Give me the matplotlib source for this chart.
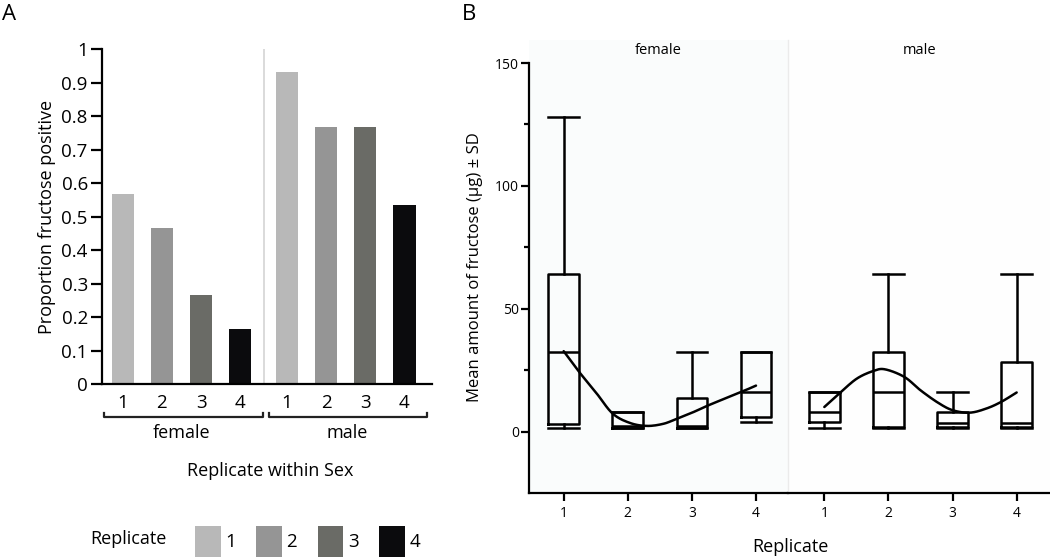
import matplotlib
matplotlib.use("Agg")
import numpy as np
import matplotlib.pyplot as plt
from matplotlib.patches import Rectangle

# ---------------- data ----------------
sexes = ["female", "male"]
replicates = ["1", "2", "3", "4"]
prop_female = [0.568, 0.468, 0.267, 0.166]
prop_male = [0.933, 0.768, 0.768, 0.534]
bar_colors = ["#b8b8b8", "#959595", "#6a6b66", "#0b0b0d"]
a_yticks = [0, 0.1, 0.2, 0.3, 0.4, 0.5, 0.6, 0.7, 0.8, 0.9, 1]
a_yticklabels = ["0", "0.1", "0.2", "0.3", "0.4", "0.5", "0.6", "0.7", "0.8", "0.9", "1"]

# box stats (whislo, q1, med, q3, whishi) per replicate
f_whislo = [1.5, 1.5, 1.5, 4.0]
f_q1 = [3.2, 1.5, 1.5, 6.0]
f_med = [32.4, 2.2, 2.5, 16.2]
f_q3 = [64.0, 8.2, 13.9, 32.4]
f_whishi = [128.0, 8.2, 32.4, 32.4]

m_whislo = [1.5, 1.5, 1.5, 1.5]
m_q1 = [4.1, 2.0, 2.0, 2.0]
m_med = [8.1, 16.1, 3.6, 3.6]
m_q3 = [16.1, 32.3, 8.1, 28.5]
m_whishi = [16.1, 64.0, 16.1, 64.0]

# smoother line
f_line_x = [1.0, 1.24, 1.515, 1.765, 2.035, 2.30, 2.56, 2.77, 3.03, 3.25, 3.55, 3.77, 4.0]
f_line_y = [32.8, 24.4, 15.6, 7.4, 3.6, 2.4, 3.3, 5.4, 8.1, 10.7, 13.9, 16.2, 18.8]
m_line_x = [1.0, 1.25, 1.51, 1.77, 1.95, 2.25, 2.50, 2.77, 3.0, 3.27, 3.53, 3.76, 4.0]
m_line_y = [10.1, 16.0, 21.7, 24.8, 25.4, 22.3, 16.9, 11.9, 8.8, 7.8, 9.5, 12.2, 16.0]

b_major = [0, 50, 100, 150]
b_minor = [25, 75, 125]

# ---------------- setup ----------------
W, H = 1050, 558
fig = plt.figure(figsize=(W / 100, H / 100), dpi=100)
fig.patch.set_facecolor("white")

MAIN = ["Open Sans", "DejaVu Sans"]
NARROW = ["Liberation Sans Narrow", "Open Sans", "DejaVu Sans"]
plt.rcParams["font.family"] = MAIN


def fx(px):
    return px / W


def fy(py):
    return 1 - py / H


def smooth_path(xs, ys, n=12):
    """Catmull-Rom rendering through the read points (drawing only)."""
    p = np.column_stack([xs, ys]).astype(float)
    p = np.vstack([2 * p[0] - p[1], p, 2 * p[-1] - p[-2]])
    out = []
    t = np.linspace(0, 1, n, endpoint=False)[:, None]
    for i in range(1, len(p) - 2):
        p0, p1, p2, p3 = p[i - 1], p[i], p[i + 1], p[i + 2]
        seg = 0.5 * ((2 * p1) + (-p0 + p2) * t + (2 * p0 - 5 * p1 + 4 * p2 - p3) * t ** 2
                     + (-p0 + 3 * p1 - 3 * p2 + p3) * t ** 3)
        out.append(seg)
    out.append(p[-2][None, :])
    out = np.vstack(out)
    return out[:, 0], out[:, 1]


# ---------------- panel A ----------------
axA = fig.add_axes([fx(101.7), fy(384.3), (431.7 - 101.7) / W, (384.3 - 49.3) / H])
male_off = 4.2
pos_f = [i for i in range(len(replicates))]
pos_m = [i + male_off for i in range(len(replicates))]
bw = 0.575
axA.bar(pos_f, prop_female, width=bw, color=bar_colors, edgecolor="none", zorder=2)
axA.bar(pos_m, prop_male, width=bw, color=bar_colors, edgecolor="none", zorder=2)
axA.set_xlim(-0.54, 7.9)
axA.set_ylim(0, 1)
axA.axvline((pos_f[-1] + pos_m[0]) / 2, color="#d4d4d4", lw=1.2, zorder=1)
for s in ["top", "right"]:
    axA.spines[s].set_visible(False)
axA.spines["left"].set_linewidth(1.6)
axA.spines["bottom"].set_linewidth(1.6)
axA.set_yticks(a_yticks)
axA.set_yticklabels(a_yticklabels, fontsize=13.5)
axA.tick_params(axis="y", length=8, width=1.6, pad=2)
axA.set_xticks(pos_f + pos_m)
axA.set_xticklabels(replicates + replicates, fontsize=13.5)
axA.tick_params(axis="x", length=0, pad=7)
axA.set_ylabel("Proportion fructose positive", fontsize=13, labelpad=4)

# brackets
for grp in [pos_f, pos_m]:
    x0 = grp[0] - 0.47
    x1 = grp[-1] + 0.58
    yb = -0.0967
    axA.plot([x0, x0, x1, x1], [yb + 0.012, yb, yb, yb + 0.012],
             transform=axA.get_xaxis_transform(), clip_on=False, color="#222222", lw=1.6)
fig.text(fx(182), fy(433), sexes[0], fontsize=13, ha="center", va="center")
fig.text(fx(347.5), fy(433), sexes[1], fontsize=13, ha="center", va="center")
fig.text(fx(270.5), fy(471.5), "Replicate within Sex", fontsize=13, ha="center", va="center")

# legend
fig.text(fx(90), fy(539), "Replicate", fontsize=13, ha="left", va="center")
patch_x = [195, 256, 317.7, 379.3]
for px, c, lab in zip(patch_x, bar_colors, replicates):
    fig.add_artist(Rectangle((fx(px), fy(556.7)), 25.5 / W, 30.5 / H,
                             transform=fig.transFigure, facecolor=c, edgecolor="none"))
    fig.text(fx(px + 30), fy(542), lab, fontsize=13.5, ha="left", va="center")

fig.text(fx(1.5), fy(14.5), "A", fontsize=16, ha="left", va="center")
fig.text(fx(462), fy(14.5), "B", fontsize=16, ha="left", va="center")

# ---------------- panel B ----------------
ytop = 150 + (63 - 40) / 2.457
b_bottom = fy(493.3)
b_h = (493.3 - 40) / H
axF = fig.add_axes([fx(529), b_bottom, (788.3 - 529) / W, b_h])
axM = fig.add_axes([fx(788.3), b_bottom, (1050 - 788.3) / W, b_h])
axF.set_facecolor("#fafcfc")
axM.set_facecolor("#fefefe")


def stats(wl, q1, md, q3, wh):
    return [dict(whislo=a, q1=b, med=c, q3=d, whishi=e, fliers=[])
            for a, b, c, d, e in zip(wl, q1, md, q3, wh)]


lw = 1.8
props = dict(color="black", linewidth=lw)
positions = [1, 2, 3, 4]
for ax, st, lx, ly, xl in [
    (axF, stats(f_whislo, f_q1, f_med, f_q3, f_whishi), f_line_x, f_line_y, (0.459, 4.504)),
    (axM, stats(m_whislo, m_q1, m_med, m_q3, m_whishi), m_line_x, m_line_y, (0.438, 4.52)),
]:
    ax.bxp(st, positions=positions, widths=0.48, capwidths=0.48, showfliers=False,
           boxprops=props, whiskerprops=props, capprops=props, medianprops=props,
           manage_ticks=False)
    sx, sy = smooth_path(lx, ly)
    ax.plot(sx, sy, color="black", lw=1.8, zorder=5, solid_capstyle="round")
    ax.set_xlim(*xl)
    ax.set_ylim(-25, ytop)
    ax.set_xticks(positions)
    ax.set_xticklabels(replicates, fontsize=10, family=NARROW)
    ax.tick_params(axis="x", length=6, width=1.6, pad=3)
    for s in ["top", "right", "left"]:
        ax.spines[s].set_visible(False)
    ax.spines["bottom"].set_linewidth(1.6)

axM.set_yticks([])
axM.spines["left"].set_visible(True)
axM.spines["left"].set_color("#ebebeb")
axM.spines["left"].set_linewidth(1.0)

axF.spines["left"].set_visible(True)
axF.spines["left"].set_linewidth(1.6)
axF.spines["left"].set_bounds(-25, 150)
axF.set_yticks(b_major)
axF.set_yticklabels([str(v) for v in b_major], fontsize=10, family=NARROW)
axF.set_yticks(b_minor, minor=True)
axF.tick_params(axis="y", which="major", length=6, width=1.6, pad=1)
axF.tick_params(axis="y", which="minor", length=3.5, width=1.6)
axF.set_ylabel("Mean amount of fructose (µg) ± SD", fontsize=12, labelpad=9)

axF.text(2.48, 155, sexes[0], fontsize=10.5, ha="center", va="center")
axM.text(2.48, 155, sexes[1], fontsize=10.5, ha="center", va="center")
fig.text(fx(790), fy(547), "Replicate", fontsize=13, ha="center", va="center")

fig.savefig("out.png", dpi=100, facecolor="white")
